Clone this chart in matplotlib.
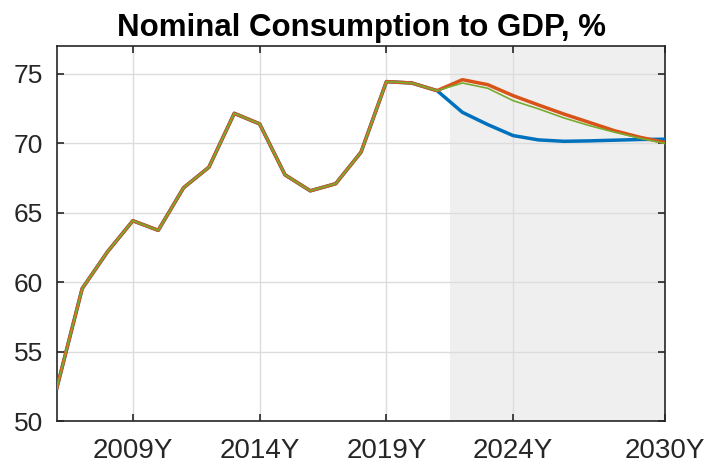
import matplotlib
matplotlib.use("Agg")
import matplotlib.pyplot as plt

plt.rcParams['font.family'] = ['Liberation Sans', 'DejaVu Sans']

# history shared by all scenarios
years_hist = [2006, 2007, 2008, 2009, 2010, 2011, 2012, 2013, 2014, 2015,
              2016, 2017, 2018, 2019, 2020, 2021]
hist = [52.4, 59.55, 62.2, 64.43, 63.74, 66.8, 68.28, 72.15, 71.39, 67.73,
        66.58, 67.09, 69.36, 74.43, 74.33, 73.78]

# forecast scenarios
years_fc = [2022, 2023, 2024, 2025, 2026, 2027, 2028, 2029, 2030]
blue_fc = [72.22, 71.34, 70.55, 70.24, 70.14, 70.17, 70.22, 70.27, 70.29]
orange_fc = [74.57, 74.21, 73.42, 72.75, 72.1, 71.5, 70.9, 70.43, 70.05]
green_fc = [74.33, 73.95, 73.06, 72.47, 71.82, 71.27, 70.79, 70.36, 69.98]

forecast_start = 2021.5
xticks = [2009, 2014, 2019, 2024, 2030]
xticklabels = ['2009Y', '2014Y', '2019Y', '2024Y', '2030Y']
yticks = [50, 55, 60, 65, 70, 75]

years = years_hist + years_fc
blue = hist + blue_fc
orange = hist + orange_fc
green = hist + green_fc

fig = plt.figure(figsize=(7.1, 4.68), dpi=100)
ax = fig.add_axes([0.080, 0.0994, 0.857, 0.8026])

ax.axvspan(forecast_start, 2030, color='#efefef', zorder=0, lw=0)
ax.set_axisbelow(True)
ax.grid(True, color='#dcdcdc', linewidth=1.0)

ax.plot(years, blue, color='#0072BD', lw=2.5, zorder=3)
ax.plot(years, orange, color='#D95319', lw=2.5, zorder=4)
ax.plot(years, green, color='#77AC30', lw=1.2, zorder=5)

ax.set_xlim(2006, 2030)
ax.set_ylim(50, 77)
ax.set_xticks(xticks)
ax.set_xticklabels(xticklabels)
ax.set_yticks(yticks)

ax.tick_params(direction='in', top=True, right=True, length=5, width=1.2,
               color='#262626', labelcolor='#262626', labelsize=19)
ax.tick_params(axis='x', pad=12, labelsize=20)
ax.tick_params(axis='y', pad=10)
for s in ax.spines.values():
    s.set_color('#262626')
    s.set_linewidth(1.2)

ax.set_title('Nominal Consumption to GDP, %', fontsize=22.5, fontweight='bold',
             pad=7)

fig.savefig('out.png', dpi=100)
